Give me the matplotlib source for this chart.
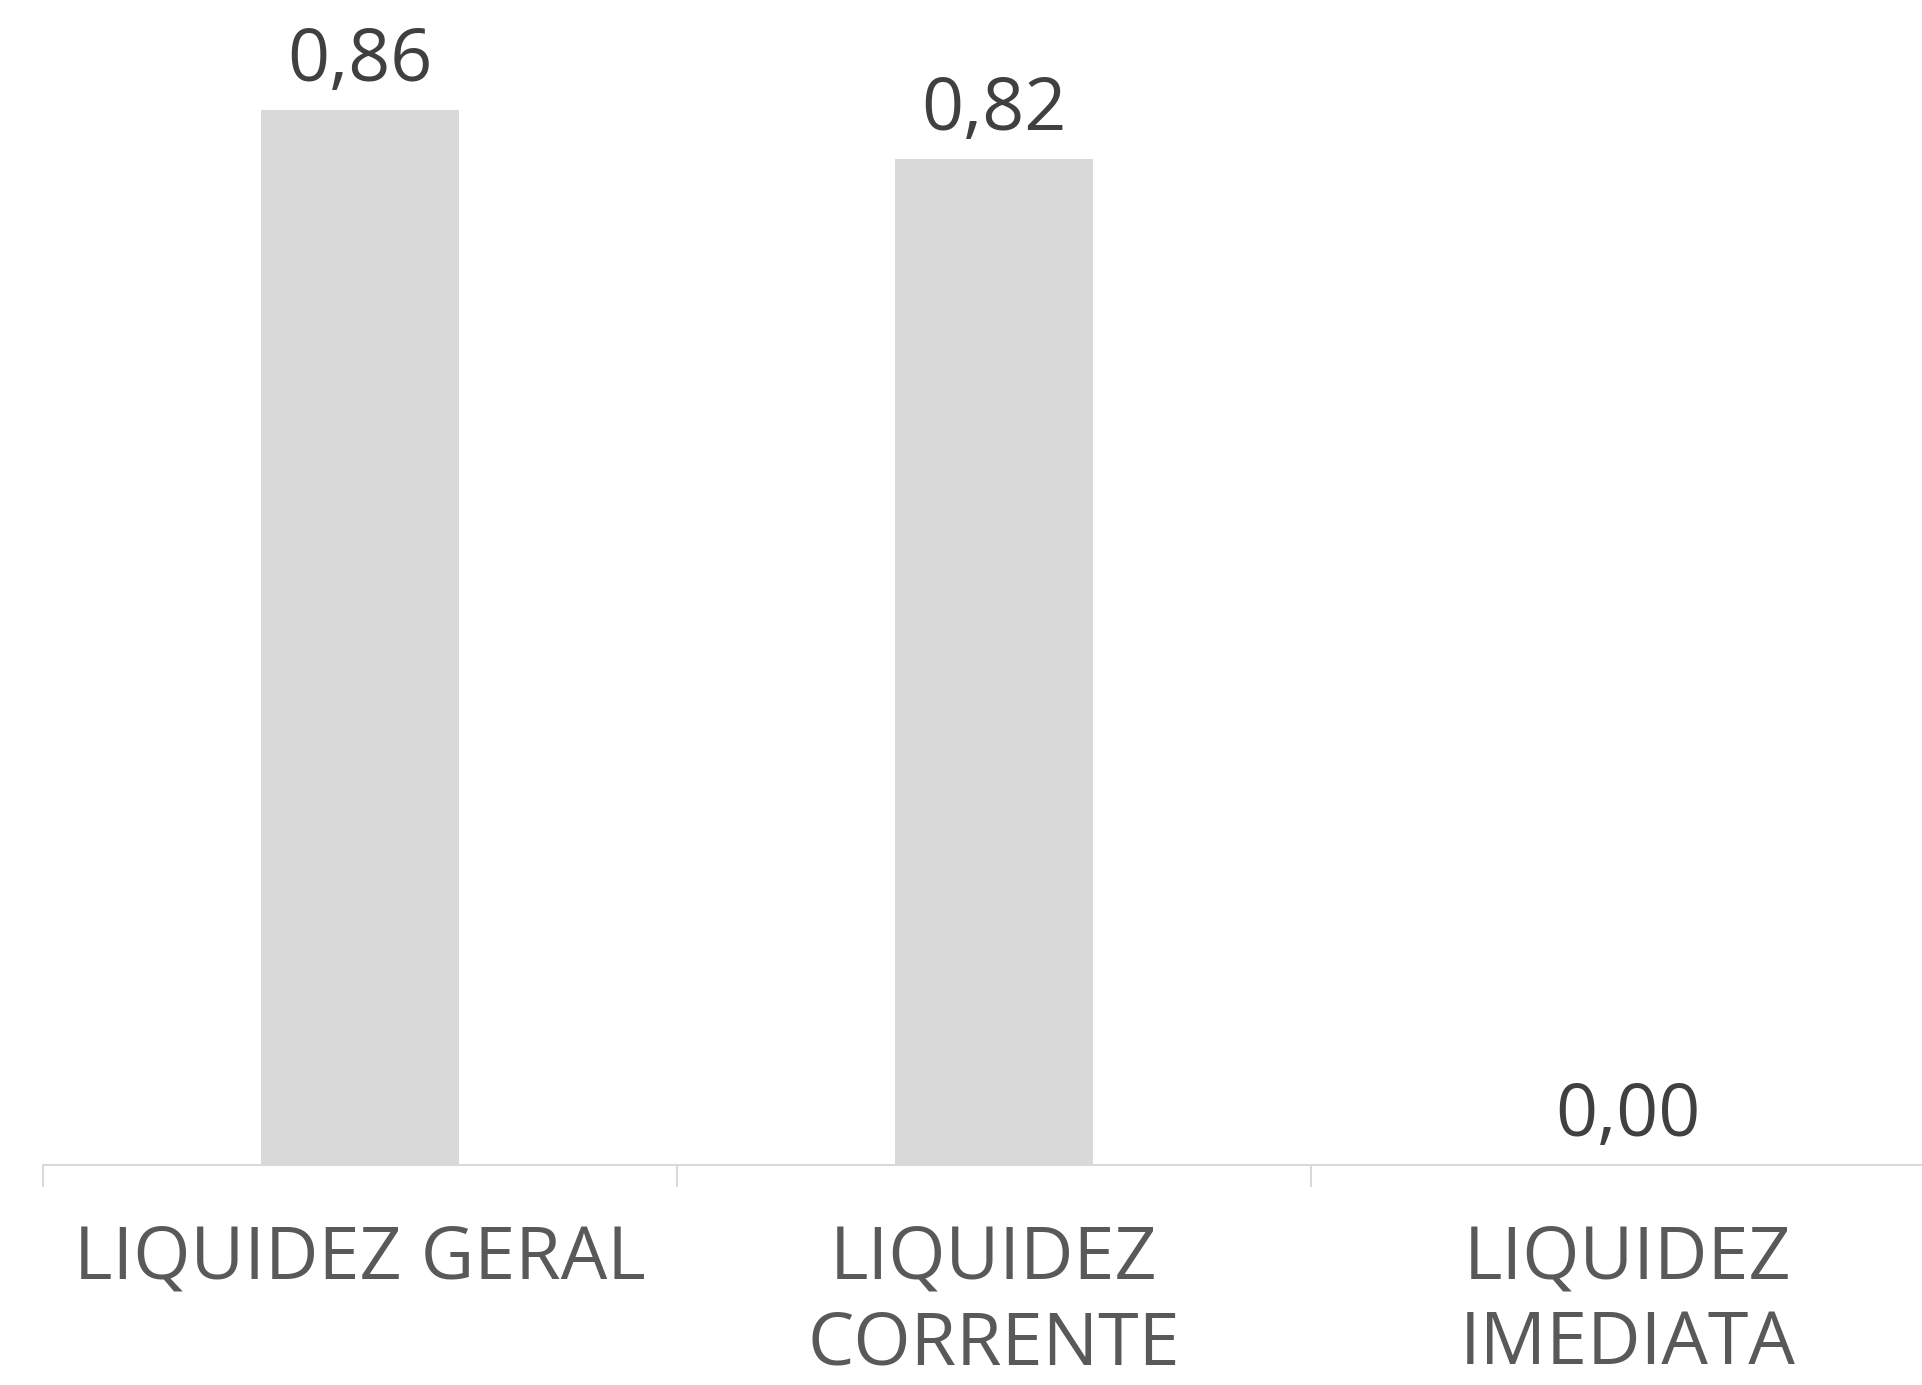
import matplotlib.pyplot as plt

# indicadores de liquidez
categorias = ['LIQUIDEZ GERAL', 'LIQUIDEZ\nCORRENTE', 'LIQUIDEZ\nIMEDIATA']
valores = [0.86, 0.82, 0.00]
rotulos = ['0,86', '0,82', '0,00']

plt.rcParams['font.family'] = ['Open Sans', 'DejaVu Sans']

fig = plt.figure(figsize=(19.22, 13.85), dpi=100)
ax = fig.add_axes([0.0224, 0.1588, 0.9896, 0.8412])

x = range(len(categorias))
ax.bar(x, valores, width=0.313, color='#D9D9D9')

for xi, v, r in zip(x, valores, rotulos):
    ax.annotate(r, (xi, v), xytext=(0, 8), textcoords='offset points',
                ha='center', va='bottom', fontsize=53, color='#404040')

ax.set_xlim(-0.5, 2.5)
ax.set_ylim(0, 0.950)
ax.set_xticks(list(x))
ax.set_xticklabels(categorias, fontsize=53, color='#595959', linespacing=1.22)
ax.set_xticks([-0.5, 0.5, 1.5, 2.5], minor=True)
ax.tick_params(axis='x', which='major', length=0, pad=41)
ax.tick_params(axis='x', which='minor', length=16, width=1.5, color='#D9D9D9')
ax.set_yticks([])
for s in ['top', 'right', 'left']:
    ax.spines[s].set_visible(False)
ax.spines['bottom'].set_color('#D9D9D9')
ax.spines['bottom'].set_linewidth(1.5)

fig.savefig('out.png', dpi=100)
